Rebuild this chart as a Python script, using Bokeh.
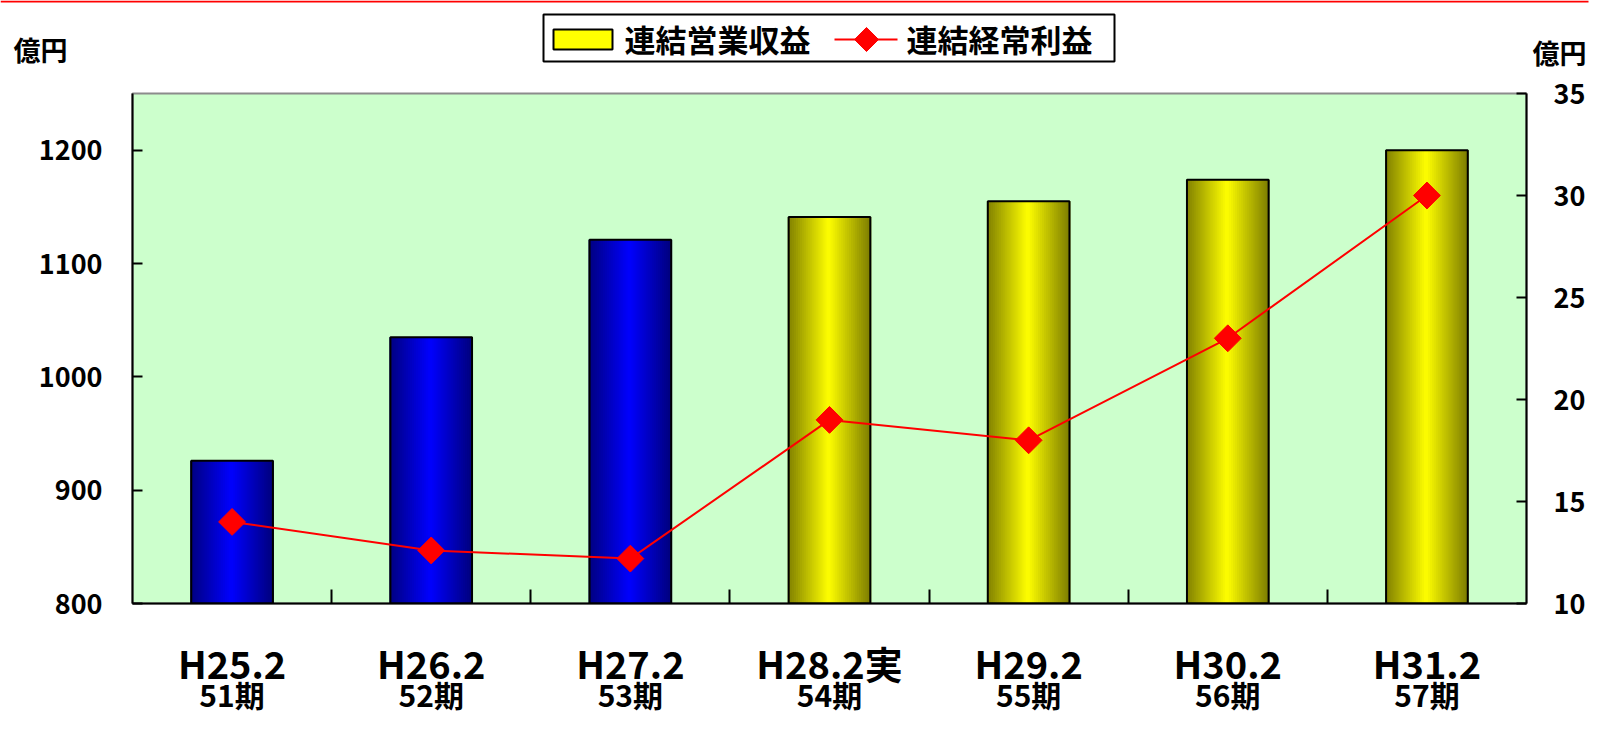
import numpy as np
from bokeh.plotting import figure
from bokeh.models import Range1d, LinearAxis, FixedTicker
from bokeh.layouts import column
from bokeh.embed import file_html
from bokeh.resources import INLINE
from bokeh.core.properties import value

# ---------------- data ----------------
periods = ["H25.2", "H26.2", "H27.2", "H28.2実", "H29.2", "H30.2", "H31.2"]
terms = ["51期", "52期", "53期", "54期", "55期", "56期", "57期"]
revenue = [926, 1035, 1121, 1141, 1155, 1174, 1200]          # 連結営業収益 (億円, left axis)
ordinary_profit = [14.0, 12.6, 12.2, 19.0, 18.0, 23.0, 30.0]  # 連結経常利益 (億円, right axis)
bar_kind = ["blue", "blue", "blue", "yellow", "yellow", "yellow", "yellow"]
left_ticks = [800, 900, 1000, 1100, 1200]
right_ticks = [10, 15, 20, 25, 30, 35]
legend_labels = ["連結営業収益", "連結経常利益"]
unit_label = "億円"

FONT = "Noto Sans CJK JP"
W = 1591
TOP_H = 73
MAIN_H = 550
BOT_H = 93
LEFT_MIN, LEFT_MAX = 800, 1250
RIGHT_MIN, RIGHT_MAX = 10, 35
BAR_W = 0.41
STRIPS = 40
BASE_RGB = {"blue": (0, 0, 255), "yellow": (255, 255, 0)}
BL, BR = 132, 65

n = len(periods)
centers = [i + 0.5 for i in range(n)]
boundaries = list(range(1, n))

# ---------------- main chart ----------------
p = figure(width=W, height=MAIN_H, x_range=Range1d(0, n), y_range=Range1d(LEFT_MIN, LEFT_MAX),
           output_backend="svg", toolbar_location=None,
           min_border_left=BL, min_border_right=BR, min_border_top=20, min_border_bottom=20)
p.frame_align = False
p.extra_y_ranges = {"right": Range1d(RIGHT_MIN, RIGHT_MAX)}
p.background_fill_color = "#CCFFCC"
p.border_fill_color = "white"
p.outline_line_color = "#8C8C8C"
p.outline_line_width = 2
p.grid.visible = False

# gradient bars made of thin overlapping strips
sx, stop, scol = [], [], []
for c, v, kind in zip(centers, revenue, bar_kind):
    r0, g0, b0 = BASE_RGB[kind]
    for k in range(STRIPS):
        t = (k + 0.5) / STRIPS
        f = 1 - 0.5 * abs(2 * t - 1)
        sx.append(c - BAR_W / 2 + t * BAR_W)
        stop.append(v)
        scol.append("#%02x%02x%02x" % (int(r0 * f), int(g0 * f), int(b0 * f)))
p.vbar(x=sx, top=stop, bottom=LEFT_MIN, width=BAR_W / STRIPS * 1.9,
       fill_color=scol, line_color=None)
p.vbar(x=centers, top=revenue, bottom=LEFT_MIN, width=BAR_W,
       fill_color=None, line_color="black", line_width=2)

# profit line
p.line(centers, ordinary_profit, y_range_name="right", line_color="#FF0000", line_width=2)
p.scatter(centers, ordinary_profit, y_range_name="right", marker="square", angle=np.pi / 4,
          size=19, fill_color="#FF0000", line_color="#FF0000")

# axes
ya = p.yaxis[0]
ya.ticker = FixedTicker(ticks=left_ticks)
ra = LinearAxis(y_range_name="right", ticker=FixedTicker(ticks=right_ticks))
p.add_layout(ra, "right")
for ax, so in ((ya, 30), (ra, 27)):
    ax.axis_line_color = "black"
    ax.axis_line_width = 2
    ax.major_tick_line_color = "black"
    ax.major_tick_line_width = 2
    ax.major_tick_in = 10
    ax.major_tick_out = 0
    ax.minor_tick_line_color = None
    ax.major_label_text_font = FONT
    ax.major_label_text_font_style = "bold"
    ax.major_label_text_font_size = "27px"
    ax.major_label_text_color = "black"
    ax.major_label_standoff = so

xa = p.xaxis[0]
xa.ticker = FixedTicker(ticks=[], minor_ticks=boundaries)
xa.axis_line_color = "black"
xa.axis_line_width = 2
xa.major_tick_line_color = None
xa.minor_tick_line_color = "black"
xa.minor_tick_line_width = 2
xa.minor_tick_in = 14
xa.minor_tick_out = 0
xa.major_label_standoff = 0

# ---------------- category labels under the chart ----------------
bot = figure(width=W, height=BOT_H, x_range=p.x_range, y_range=Range1d(BOT_H, 0),
             output_backend="svg", toolbar_location=None, x_axis_type=None, y_axis_type=None,
             min_border_left=BL, min_border_right=BR, min_border_top=0, min_border_bottom=0)
bot.frame_align = False
bot.grid.visible = False
bot.outline_line_color = None
bot.background_fill_color = "white"
bot.border_fill_color = "white"
bot.text(x=centers, y=[39] * n, text=periods, text_align="center", text_baseline="middle",
         text_font=value(FONT), text_font_style="bold", text_font_size="38px", text_color="black")
bot.text(x=centers, y=[70] * n, text=terms, text_align="center", text_baseline="middle",
         text_font=value(FONT), text_font_style="bold", text_font_size="30px", text_color="black")

# ---------------- top strip: legend + unit labels ----------------
top = figure(width=W, height=TOP_H, x_range=Range1d(0, W), y_range=Range1d(TOP_H, 0),
             output_backend="svg", toolbar_location=None, x_axis_type=None, y_axis_type=None,
             min_border=0)
top.frame_align = False
top.grid.visible = False
top.outline_line_color = None
top.background_fill_color = "white"
top.border_fill_color = "white"

top.line([0, 1588], [1, 1], line_color="#FF0000", line_width=2)
top.quad(left=[543], right=[1114], top=[14], bottom=[61], fill_color="white",
         line_color="black", line_width=2)
top.quad(left=[553], right=[612], top=[29], bottom=[49], fill_color="#FFFF00",
         line_color="black", line_width=2)
top.text(x=[624], y=[38], text=[legend_labels[0]], text_font=value(FONT), text_font_style="bold",
         text_font_size="31px", text_baseline="middle", text_color="black")
top.line([834, 897], [39, 39], line_color="#FF0000", line_width=2)
top.scatter([866], [39], marker="square", angle=np.pi / 4, size=17,
            fill_color="#FF0000", line_color="#FF0000")
top.text(x=[906], y=[38], text=[legend_labels[1]], text_font=value(FONT), text_font_style="bold",
         text_font_size="31px", text_baseline="middle", text_color="black")

top.text(x=[13], y=[49], text=[unit_label], text_font=value(FONT), text_font_style="bold",
         text_font_size="27px", text_baseline="middle", text_color="black")
top.text(x=[1586], y=[52], text=[unit_label], text_font=value(FONT), text_font_style="bold",
         text_font_size="27px", text_baseline="middle", text_align="right", text_color="black")

layout = column(top, p, bot, spacing=0)
open("out.html", "w").write(file_html(layout, INLINE))
